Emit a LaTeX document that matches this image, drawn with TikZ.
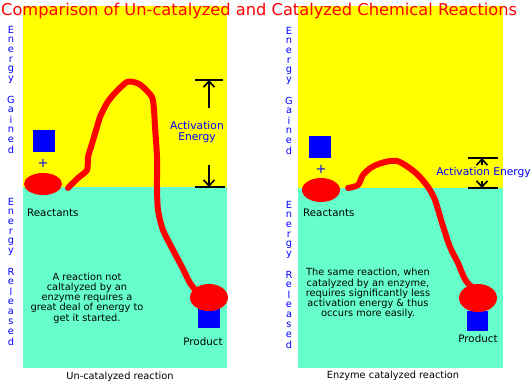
\documentclass[tikz,border=0pt]{standalone}
\usepackage{fontspec}
\setmainfont{DejaVu Sans}
\usetikzlibrary{arrows.meta,shapes.geometric}
\definecolor{ylw}{RGB}{255,255,0}
\definecolor{aqua}{RGB}{102,255,204}
\definecolor{rd}{RGB}{255,0,0}
\definecolor{bl}{RGB}{0,0,255}
\tikzset{
  blob/.style={ellipse,fill=rd,inner sep=0pt},
  sq/.style={rectangle,fill=bl,inner sep=0pt,minimum size=22pt},
  vlet/.style={text=bl,font=\fontsize{9.8}{10}\selectfont,inner sep=0pt},
  lbl/.style={text=black,font=\fontsize{10.3}{11}\selectfont,inner sep=0pt},
  captext/.style={text=black,font=\fontsize{9.8}{11}\selectfont,inner sep=0pt},
  desc/.style={text=black,font=\fontsize{9.8}{10.2}\selectfont,align=center,inner sep=0pt},
  act/.style={text=bl,font=\fontsize{10.7}{11}\selectfont,align=center,inner sep=0pt},
  bar/.style={line width=2.4pt,black},
  aarrow/.style={line width=1.8pt,black,-{Straight Barb[length=6pt,width=11pt,line width=1.6pt]}},
  path/.style={rd,line width=6pt,line cap=round,line join=round},
}
\begin{document}
\begin{tikzpicture}[x=1pt,y=-1pt]
\useasboundingbox (0,0) rectangle (532,383);
\fill[white] (0,0) rectangle (532,383);
% panels
\fill[ylw] (23,6) rectangle (227,187);
\fill[aqua] (23,187) rectangle (227,368);
\fill[ylw] (298,6) rectangle (503,188);
\fill[aqua] (298,188) rectangle (503,368);
% title
\node[text=rd,font=\fontsize{16.25}{18}\selectfont,anchor=base west,inner sep=0pt] (title) at (1,15) {Comparison of Un-catalyzed and Catalyzed Chemical Reactions};
% vertical labels
\foreach \c [count=\i] in {E,n,e,r,g,y,{},G,a,i,n,e,d}
  \node[vlet] (lg\i) at (11,20+10*\i) {\c};
\foreach \c [count=\i] in {E,n,e,r,g,y,{},R,e,l,e,a,s,e,d}
  \node[vlet] (lr\i) at (11,192+10*\i) {\c};
\foreach \c [count=\i] in {E,n,e,r,g,y,{},G,a,i,n,e,d}
  \node[vlet] (rg\i) at (289,21+10*\i) {\c};
\foreach \c [count=\i] in {E,n,e,r,g,y,{},R,e,l,e,a,s,e,d}
  \node[vlet] (rr\i) at (289,195+10*\i) {\c};
% ---------- left panel ----------
\node[sq] (lsq) at (44,141) {};
\node[text=bl,font=\fontsize{13}{13}\selectfont,inner sep=0pt] (lplus) at (43,163) {+};
\node[blob,minimum width=38pt,minimum height=22pt] (lreact) at (43,184) {};
\node[lbl,anchor=west] (lreactlbl) at (27,213) {Reactants};
\node[sq] (lpsq) at (209,317) {};
\node[blob,minimum width=38pt,minimum height=27pt] (lprod) at (209,297.5) {};
\node[lbl] (lprodlbl) at (203,342) {Product};
\coordinate (ls) at (68,188);
\coordinate (le) at (197,292);
\draw[path] plot[smooth,tension=0.45] coordinates {(ls) (78,178) (87,170) (88,157) (91,147) (97,127) (100,117) (107,103) (115,93) (127,82) (137,83) (143,87) (152,97) (154,110) (155,127) (157,157) (157,187) (158,210) (163,230) (173,250) (182,267) (190,283) (le)};
\coordinate (ltb1) at (195,80); \coordinate (ltb2) at (223,80);
\coordinate (lbb1) at (195,187); \coordinate (lbb2) at (225,187);
\coordinate (ltop) at (209,80); \coordinate (lbot) at (209,187);
\coordinate (lus) at (209,108); \coordinate (lds) at (209,165);
\draw[bar] (ltb1) -- (ltb2);
\draw[bar] (lbb1) -- (lbb2);
\draw[aarrow] (lus) -- (ltop);
\draw[aarrow] (lds) -- (lbot);
\node[act] (lact) at (197,132.5) {Activation\\Energy};
\node[desc] (ldesc) at (87,298) {A reaction not\\caltalyzed by an\\enzyme requires a\\great deal of energy to\\get it started.};
\node[captext] (lcap) at (120,377) {Un-catalyzed reaction};
% ---------- right panel ----------
\node[sq] (rsq) at (320,147) {};
\node[text=bl,font=\fontsize{13}{13}\selectfont,inner sep=0pt] (rplus) at (321,169) {+};
\node[blob,minimum width=38pt,minimum height=24pt] (rreact) at (321,190) {};
\node[lbl,anchor=west] (rreactlbl) at (303,213) {Reactants};
\node[sq,minimum width=21pt,minimum height=20pt] (rpsq) at (477.5,321) {};
\node[blob,minimum width=38pt,minimum height=28pt] (rprod) at (478,298) {};
\node[lbl] (rprodlbl) at (478,339) {Product};
\coordinate (rs) at (348,188);
\coordinate (re) at (478,292);
\draw[path] plot[smooth,tension=0.5] coordinates {(rs) (358,185) (363,175) (372,167) (385,162) (397,161) (408,167) (418,175) (428,187) (435,200) (442,223) (450,247) (458,263) (466,281) (re)};
\coordinate (rtb1) at (468,158); \coordinate (rtb2) at (498,158);
\coordinate (rbb1) at (468,188); \coordinate (rbb2) at (498,188);
\coordinate (rtop) at (482,158); \coordinate (rbot) at (482,188);
\coordinate (rus) at (482,165); \coordinate (rds) at (482,181);
\draw[bar] (rtb1) -- (rtb2);
\draw[bar] (rbb1) -- (rbb2);
\draw[aarrow] (rus) -- (rtop);
\draw[aarrow] (rds) -- (rbot);
\node[act] (ract) at (483.5,173) {Activation Energy};
\node[desc] (rdesc) at (368,293.5) {The same reaction, when\\catalyzed by an enzyme,\\requires significantly less\\activation energy \& thus\\occurs more easily.};
\node[captext] (rcap) at (393,376) {Enzyme catalyzed reaction};
\end{tikzpicture}
\end{document}
